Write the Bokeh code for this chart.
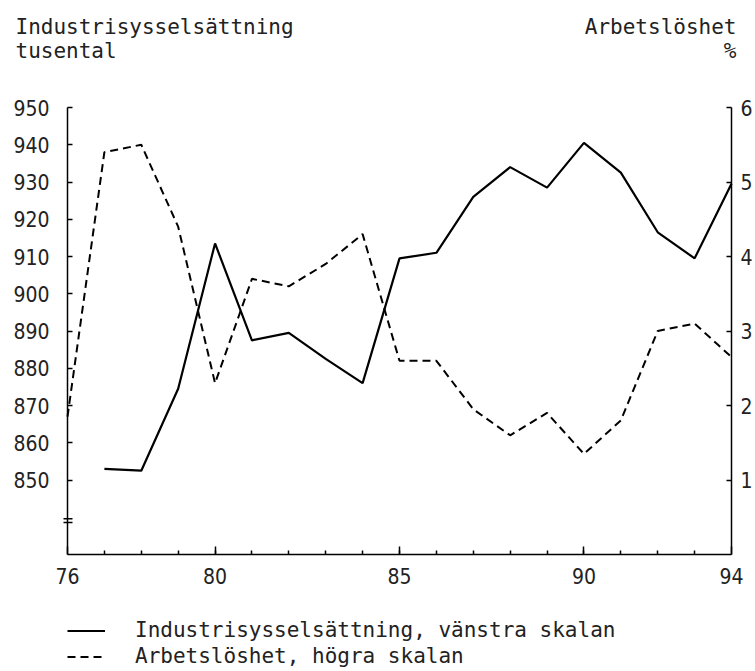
from bokeh.plotting import figure
from bokeh.models import (Range1d, LinearAxis, FixedTicker, Legend, LegendItem, Label)
from bokeh.embed import file_html
from bokeh.resources import INLINE

nan = float("nan")

# ---- data ----
years = list(range(76, 95))
employment = [nan, 853.0, 852.5, 874.5, 913.5, 887.5, 889.5, 882.5, 876.0, 909.5,
              911.0, 926.0, 934.0, 928.5, 940.5, 932.5, 916.5, 909.5, 929.5]
unemployment = [1.85, 5.4, 5.5, 4.4, 2.3, 3.7, 3.6, 3.9, 4.3, 2.6,
                2.6, 1.95, 1.6, 1.9, 1.35, 1.8, 3.0, 3.1, 2.65]

x_major_ticks = [76, 80, 85, 90, 94]
x_minor_ticks = list(range(77, 94))
left_ticks = [850, 860, 870, 880, 890, 900, 910, 920, 930, 940, 950]
right_ticks = [1, 2, 3, 4, 5, 6]

left_title = ["Industrisysselsättning", "tusental"]
right_title = ["Arbetslöshet", "%"]
legend_labels = ["Industrisysselsättning, vänstra skalan",
                 "Arbetslöshet, högra skalan"]

MONO = "DejaVu Sans Mono"
TICKFONT = "DejaVu Sans Condensed"
TXT = "#222222"

W, H = 755, 671
# pixel placement of the axes box on the canvas
AX_L, AX_R, AX_T, AX_B = 67, 731, 107, 554
X0, X1 = 76, 94
YL0, YL1 = 830, 950
YR0, YR1 = 0, 6

xs = (AX_R - AX_L) / (X1 - X0)
yls = (AX_B - AX_T) / (YL1 - YL0)
yrs = (AX_B - AX_T) / (YR1 - YR0)

p = figure(width=W, height=H, output_backend="svg", toolbar_location=None,
           x_range=Range1d(X0 - AX_L / xs, X1 + (W - AX_R) / xs),
           y_range=Range1d(YL0 - (H - AX_B) / yls, YL1 + AX_T / yls),
           min_border=0, background_fill_color="white", border_fill_color="white")
p.outline_line_color = None
p.xgrid.visible = False
p.ygrid.visible = False

p.extra_y_ranges = {"u": Range1d(YR0 - (H - AX_B) / yrs, YR1 + AX_T / yrs)}

xa = p.xaxis[0]
xa.fixed_location = YL0
xa.bounds = (X0, X1)
xa.ticker = FixedTicker(ticks=x_major_ticks, minor_ticks=x_minor_ticks)
xa.major_tick_in = 8
xa.major_tick_out = 0
xa.minor_tick_in = 4
xa.minor_tick_out = 0
xa.major_label_standoff = 13

ya = p.yaxis[0]
ya.fixed_location = X0
ya.bounds = (YL0, YL1)
ya.ticker = FixedTicker(ticks=left_ticks, minor_ticks=[])
ya.major_tick_in = 5
ya.major_tick_out = 0
ya.major_label_standoff = 18

ra = LinearAxis(y_range_name="u", ticker=FixedTicker(ticks=right_ticks, minor_ticks=[]))
ra.fixed_location = X1
ra.bounds = (YR0, YR1)
ra.major_tick_in = 5
ra.major_tick_out = 0
ra.major_label_standoff = 9
p.add_layout(ra, "right")

for ax in (xa, ya, ra):
    ax.axis_line_width = 1.5
    ax.major_tick_line_width = 1.5
    ax.minor_tick_line_width = 1.5
    ax.axis_line_color = "black"
    ax.major_label_text_font = TICKFONT
    ax.major_label_text_font_size = "21px"
    ax.major_label_text_color = TXT

# series
r_emp = p.line(years, employment, line_color="black", line_width=2.2)
r_unemp = p.line(years, unemployment, y_range_name="u", line_color="black",
                 line_width=2, line_dash="8 5")

# axis-break marks across the left axis
BREAK_LEVELS = [839.6, 838.6]
p.segment(x0=[X0 - 4 / xs] * 2, y0=BREAK_LEVELS, x1=[X0 + 5 / xs] * 2,
          y1=BREAK_LEVELS, line_color="black", line_width=1.5)

# axis titles
for txt, yy in zip(left_title, (26, 50)):
    p.add_layout(Label(x=15, y=H - yy, x_units="screen", y_units="screen", text=txt,
                       text_font=MONO, text_font_size="21px", text_color=TXT,
                       text_align="left", text_baseline="alphabetic"))
for txt, yy in zip(right_title, (26, 50)):
    p.add_layout(Label(x=736, y=H - yy, x_units="screen", y_units="screen", text=txt,
                       text_font=MONO, text_font_size="21px", text_color=TXT,
                       text_align="right", text_baseline="alphabetic"))

# legend under the chart
legend = Legend(items=[LegendItem(label=legend_labels[0], renderers=[r_emp]),
                       LegendItem(label=legend_labels[1], renderers=[r_unemp])],
                location=(AX_L, 3), orientation="vertical",
                glyph_width=38, glyph_height=21, label_height=21,
                label_standoff=30, spacing=2, padding=0, margin=0,
                label_text_font=MONO, label_text_font_size="21px",
                label_text_color=TXT,
                background_fill_alpha=0, border_line_alpha=0)
p.add_layout(legend)

open("out.html", "w").write(file_html(p, INLINE))
